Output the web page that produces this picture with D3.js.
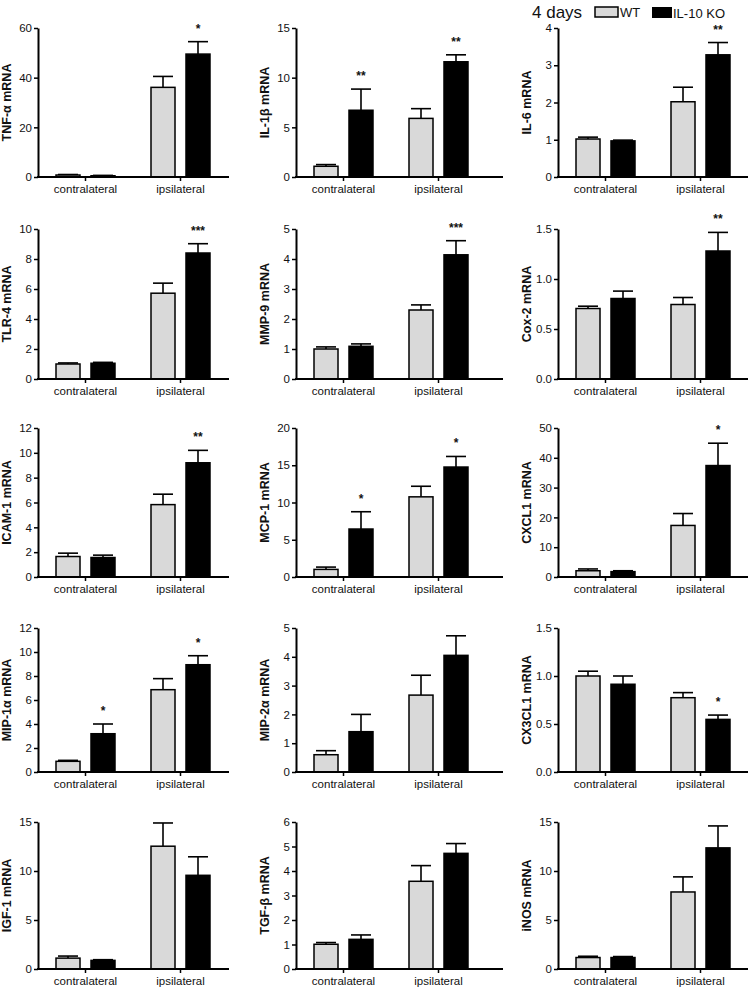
<!DOCTYPE html>
<html>
<head>
<meta charset="utf-8">
<script src="https://cdn.jsdelivr.net/npm/d3@7"></script>
<style>
  body { margin: 0; background: #fff; }
  text { font-family: "Liberation Sans", Arial, sans-serif; fill: #111; }
</style>
</head>
<body>
<div id="chart"></div>
<script>
// ---- data ----
const groups = ["contralateral", "ipsilateral"];
const seriesNames = ["WT", "IL-10 KO"];

const genes = ["TNF-α", "IL-1β", "IL-6", "TLR-4", "MMP-9", "Cox-2",
  "ICAM-1", "MCP-1", "CXCL1", "MIP-1α", "MIP-2α", "CX3CL1",
  "IGF-1", "TGF-β", "iNOS"];

const yMax  = [60, 15, 4, 10, 5, 1.5, 12, 20, 50, 12, 5, 1.5, 15, 6, 15];
const yStep = [20, 5, 1, 2, 1, 0.5, 2, 5, 10, 2, 1, 0.5, 5, 1, 5];

// [contralateral, ipsilateral]
const wtMean = [[0.8, 36.1], [1.08, 5.9], [1.02, 2.02], [1.0, 5.72], [1.0, 2.3], [0.705, 0.745],
  [1.65, 5.83], [1.02, 10.76], [2.1, 17.3], [0.89, 6.86], [0.6, 2.67], [1.0, 0.774],
  [1.11, 12.53], [1.01, 3.58], [1.17, 7.86]];
const wtSem = [[0.2, 4.4], [0.17, 0.98], [0.05, 0.39], [0.07, 0.67], [0.07, 0.17], [0.023, 0.07],
  [0.27, 0.84], [0.31, 1.42], [0.6, 4.0], [0.08, 0.92], [0.14, 0.69], [0.05, 0.053],
  [0.21, 2.37], [0.07, 0.64], [0.13, 1.54]];
const koMean = [[0.5, 49.5], [6.72, 11.6], [0.97, 3.28], [1.05, 8.4], [1.09, 4.14], [0.805, 1.28],
  [1.57, 9.2], [6.44, 14.76], [1.8, 37.4], [3.19, 8.94], [1.4, 4.05], [0.914, 0.548],
  [0.88, 9.56], [1.21, 4.72], [1.17, 12.36]];
const koSem = [[0.15, 5.0], [2.13, 0.7], [0.02, 0.33], [0.06, 0.62], [0.08, 0.47], [0.074, 0.186],
  [0.19, 1.0], [2.32, 1.42], [0.3, 7.5], [0.81, 0.75], [0.6, 0.68], [0.086, 0.045],
  [0.07, 1.89], [0.18, 0.4], [0.1, 2.24]];
// significance marks on the KO bars
const koStars = [["", "*"], ["**", "**"], ["", "**"], ["", "***"], ["", "***"], ["", "**"],
  ["", "**"], ["*", "*"], ["", "*"], ["*", "*"], ["", ""], ["", "*"],
  ["", ""], ["", ""], ["", ""]];

// ---- layout ----
const width = 752, height = 989;
const rowTop = [28, 229, 428, 628, 822];
const rowBottom = [177, 379, 577, 772, 969];
const colX = [38, 296, 558];
const colLen = [191, 207, 190];
const groupSpan = 190;

const fills = { "WT": "#d9d9d9", "IL-10 KO": "#000" };

const svg = d3.select("#chart")
  .append("svg")
  .attr("width", width)
  .attr("height", height);

const inner = d3.scaleBand()
  .domain(seriesNames)
  .range([-29.5, 29.5])
  .paddingInner(0.314);

genes.forEach((gene, i) => {
  const r = Math.floor(i / 3), c = i % 3;
  const x0 = colX[c];

  const y = d3.scaleLinear()
    .domain([0, yMax[i]])
    .range([rowBottom[r], rowTop[r]]);

  const x = d3.scaleBand()
    .domain(groups)
    .range([x0, x0 + groupSpan]);

  const g = svg.append("g");

  // bars + error bars (upper only)
  const means = { "WT": wtMean[i], "IL-10 KO": koMean[i] };
  const sems = { "WT": wtSem[i], "IL-10 KO": koSem[i] };

  groups.forEach((grp, gi) => {
    const cx = x(grp) + x.bandwidth() / 2;
    seriesNames.forEach(s => {
      const bx = cx + inner(s);
      const bw = inner.bandwidth();
      const m = means[s][gi], e = m + sems[s][gi];
      const mid = bx + bw / 2;
      g.append("line")
        .attr("x1", mid).attr("x2", mid)
        .attr("y1", y(m)).attr("y2", y(e))
        .attr("stroke", "#000").attr("stroke-width", 1.6);
      g.append("line")
        .attr("x1", mid - 10).attr("x2", mid + 10)
        .attr("y1", y(e)).attr("y2", y(e))
        .attr("stroke", "#000").attr("stroke-width", 1.6);
      g.append("rect")
        .attr("x", bx)
        .attr("y", y(m))
        .attr("width", bw)
        .attr("height", y(0) - y(m))
        .attr("fill", fills[s])
        .attr("stroke", "#000")
        .attr("stroke-width", 1.5);
      if (s === "IL-10 KO" && koStars[i][gi]) {
        g.append("text")
          .attr("x", mid)
          .attr("y", y(e) - 9)
          .attr("text-anchor", "middle")
          .style("font-size", "12px")
          .style("font-weight", "bold")
          .text(koStars[i][gi]);
      }
    });
  });

  // y axis
  const fmt = yStep[i] < 1 ? d3.format(".1f") : d3.format("d");
  const yAxis = g.append("g")
    .attr("transform", `translate(${x0},0)`)
    .call(d3.axisLeft(y)
      .tickValues(d3.range(0, yMax[i] + yStep[i] / 2, yStep[i]))
      .tickFormat(fmt)
      .tickSize(4)
      .tickSizeOuter(0)
      .tickPadding(2));
  yAxis.select(".domain").attr("stroke-width", 2);
  yAxis.selectAll(".tick line").attr("stroke-width", 1.5);
  yAxis.selectAll("text").style("font-size", "11.5px").attr("fill", "#222");

  // x axis
  const xAxis = g.append("g")
    .attr("transform", `translate(0,${y(0)})`)
    .call(d3.axisBottom(x).tickSize(4).tickSizeOuter(0).tickPadding(4));
  xAxis.select(".domain").remove();
  xAxis.selectAll(".tick line").attr("stroke-width", 1.5);
  xAxis.selectAll("text").style("font-size", "11.5px").attr("fill", "#222");
  g.append("line")
    .attr("x1", x0 - 1).attr("x2", x0 + colLen[c])
    .attr("y1", y(0)).attr("y2", y(0))
    .attr("stroke", "#000").attr("stroke-width", 2);

  // y title
  g.append("text")
    .attr("transform", `translate(${x0 - 27},${(rowTop[r] + rowBottom[r]) / 2}) rotate(-90)`)
    .attr("text-anchor", "middle")
    .style("font-size", "12.5px")
    .style("font-weight", "bold")
    .text(gene + " mRNA");
});

// legend
const legend = svg.append("g");
legend.append("text")
  .attr("x", 532).attr("y", 18)
  .style("font-size", "17px")
  .text("4 days");
legend.append("rect")
  .attr("x", 595).attr("y", 7).attr("width", 23).attr("height", 10)
  .attr("fill", fills["WT"]).attr("stroke", "#000").attr("stroke-width", 1.5);
legend.append("text")
  .attr("x", 620).attr("y", 17)
  .style("font-size", "13px")
  .text("WT");
legend.append("rect")
  .attr("x", 652).attr("y", 7).attr("width", 20).attr("height", 11)
  .attr("fill", fills["IL-10 KO"]);
legend.append("text")
  .attr("x", 673).attr("y", 18)
  .style("font-size", "13px")
  .text("IL-10 KO");
</script>
</body>
</html>
